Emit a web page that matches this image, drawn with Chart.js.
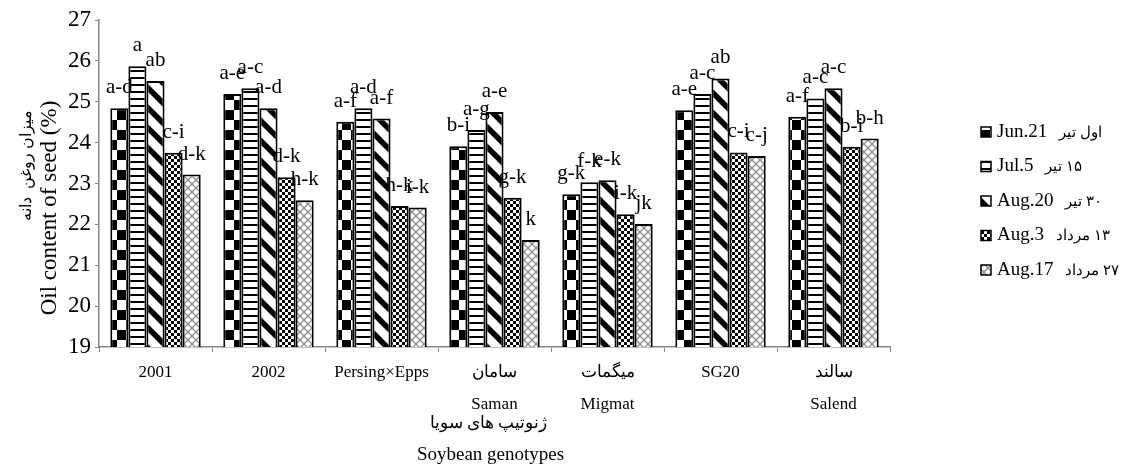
<!DOCTYPE html>
<html>
<head>
<meta charset="utf-8">
<script src="https://cdn.jsdelivr.net/npm/chart.js@4.4.1/dist/chart.umd.min.js"></script>
<style>
  html, body { margin: 0; background: #fff; }
  #wrap { width: 1123px; height: 465px; position: relative; }
</style>
</head>
<body>
<div id="wrap"><canvas id="oilChart"></canvas></div>
<script>
// genotypes (persian name on top, english below)
const genotypes = ['2001', '2002', 'Persing×Epps', ['سامان', 'Saman'], ['میگمات', 'Migmat'], 'SG20', ['سالند', 'Salend']];

// sowing dates
const datesEn = ['Jun.21', 'Jul.5', 'Aug.20', 'Aug.3', 'Aug.17'];
const datesFa = ['اول تیر', '۱۵ تیر', '۳۰ تیر', '۱۳ مرداد', '۲۷ مرداد'];

// oil content (%)
const jun21 = [24.84, 25.19, 24.51, 23.91, 22.74, 24.79, 24.63];
const jul5  = [25.87, 25.33, 24.84, 24.31, 23.03, 25.19, 25.08];
const aug20 = [25.51, 24.84, 24.59, 24.75, 23.08, 25.57, 25.33];
const aug3  = [23.75, 23.15, 22.45, 22.65, 22.25, 23.76, 23.90];
const aug17 = [23.22, 22.59, 22.41, 21.62, 22.01, 23.67, 24.10];

// mean comparison letters
const letJun21 = ['a-d', 'a-e', 'a-f', 'b-i', 'g-k', 'a-e', 'a-f'];
const letJul5  = ['a', 'a-c', 'a-d', 'a-g', 'f-k', 'a-c', 'a-c'];
const letAug20 = ['ab', 'a-d', 'a-f', 'a-e', 'e-k', 'ab', 'a-c'];
const letAug3  = ['c-i', 'd-k', 'h-k', 'g-k', 'i-k', 'c-i', 'b-i'];
const letAug17 = ['d-k', 'h-k', 'i-k', 'k', 'jk', 'c-j', 'b-h'];

const yTicks = [19, 20, 21, 22, 23, 24, 25, 26, 27];

const serif = "'Liberation Serif', 'Times New Roman', serif";
const axisGrey = '#868686';

// excel-like fill patterns
function makePattern(w, h, draw) {
  const c = document.createElement('canvas');
  c.width = w; c.height = h;
  const g = c.getContext('2d');
  g.fillStyle = '#fff';
  g.fillRect(0, 0, w, h);
  draw(g, w, h);
  return g.createPattern(c, 'repeat');
}

const patterns = [
  // large checker
  makePattern(18, 20, g => {
    g.fillStyle = '#000';
    g.fillRect(0, 0, 9, 10);
    g.fillRect(9, 10, 9, 10);
  }),
  // horizontal stripes
  makePattern(6, 7, g => {
    g.fillStyle = '#000';
    g.fillRect(0, 0, 6, 2);
  }),
  // wide downward diagonal
  makePattern(20, 20, g => {
    g.strokeStyle = '#000';
    g.lineWidth = 5.5;
    for (let k = -20; k <= 20; k += 20) {
      g.beginPath();
      g.moveTo(-5, -5 + k);
      g.lineTo(25, 25 + k);
      g.stroke();
    }
  }),
  // small checker
  makePattern(6, 6, g => {
    g.fillStyle = '#000';
    g.fillRect(0, 0, 3, 3);
    g.fillRect(3, 3, 3, 3);
  }),
  // grey trellis
  makePattern(8, 8, g => {
    g.strokeStyle = '#8c8c8c';
    g.lineWidth = 1.3;
    g.beginPath();
    g.moveTo(0, 0); g.lineTo(8, 8);
    g.moveTo(8, 0); g.lineTo(0, 8);
    g.stroke();
  })
];

const seriesValues = [jun21, jul5, aug20, aug3, aug17];
const seriesLetters = [letJun21, letJul5, letAug20, letAug3, letAug17];

const datasets = seriesValues.map((vals, i) => ({
  label: datesEn[i] + ' ' + datesFa[i],
  data: vals,
  backgroundColor: patterns[i],
  borderColor: '#000',
  borderWidth: 2,
  borderSkipped: 'bottom',
  categoryPercentage: 0.8,
  barPercentage: 1.0
}));

// letters above the bars
const letterPlugin = {
  id: 'letters',
  afterDatasetsDraw(chart) {
    const ctx = chart.ctx;
    ctx.save();
    ctx.font = '21px ' + serif;
    ctx.fillStyle = '#000';
    ctx.textAlign = 'center';
    ctx.textBaseline = 'alphabetic';
    chart.data.datasets.forEach((ds, i) => {
      chart.getDatasetMeta(i).data.forEach((bar, j) => {
        ctx.fillText(seriesLetters[i][j], bar.x, bar.y - 15);
      });
    });
    ctx.restore();
  }
};

// axis titles and legend
const extrasPlugin = {
  id: 'extras',
  afterDraw(chart) {
    const ctx = chart.ctx;
    const area = chart.chartArea;
    const midX = (area.left + area.right) / 2;
    ctx.save();
    ctx.fillStyle = '#000';
    ctx.textBaseline = 'middle';

    // y title
    ctx.save();
    ctx.translate(27, 165);
    ctx.rotate(-Math.PI / 2);
    ctx.textAlign = 'center';
    ctx.direction = 'rtl';
    ctx.font = '16px ' + serif;
    ctx.fillText('میزان روغن  دانه', 0, 0);
    ctx.restore();

    ctx.save();
    ctx.translate(50, 208);
    ctx.rotate(-Math.PI / 2);
    ctx.textAlign = 'center';
    ctx.font = '23px ' + serif;
    ctx.fillText('Oil content of seed (%)', 0, 0);
    ctx.restore();

    // x title
    ctx.textAlign = 'center';
    ctx.direction = 'rtl';
    ctx.font = '17px ' + serif;
    ctx.fillText('ژنوتیپ های سویا', midX - 6, 424);
    ctx.direction = 'ltr';
    ctx.font = '19px ' + serif;
    ctx.fillText('Soybean genotypes', midX - 4, 455);

    // legend
    ctx.textAlign = 'left';
    datesEn.forEach((d, i) => {
      const y = 132 + i * 34.5;
      ctx.fillStyle = patterns[i];
      ctx.fillRect(981, y - 5, 10, 10);
      ctx.strokeStyle = '#000';
      ctx.lineWidth = 1.5;
      ctx.strokeRect(981, y - 5, 10, 10);
      ctx.fillStyle = '#000';
      ctx.direction = 'ltr';
      ctx.font = '19px ' + serif;
      ctx.fillText(d, 997, y);
      const w = ctx.measureText(d).width;
      ctx.direction = 'rtl';
      ctx.font = '15px ' + serif;
      ctx.fillText(datesFa[i], 997 + w + 12, y + 1);
    });
    ctx.restore();
  }
};

new Chart(document.getElementById('oilChart'), {
  type: 'bar',
  data: { labels: genotypes, datasets },
  plugins: [letterPlugin, extrasPlugin],
  options: {
    responsive: true,
    maintainAspectRatio: false,
    animation: false,
    devicePixelRatio: 1,
    layout: { padding: { top: 20, right: 233, left: 0, bottom: 0 } },
    plugins: { legend: { display: false }, tooltip: { enabled: false } },
    scales: {
      x: {
        grid: { display: true, drawOnChartArea: false, offset: true, tickLength: 5, color: axisGrey },
        border: { color: axisGrey, width: 1.5 },
        ticks: {
          color: '#000',
          padding: 4,
          maxRotation: 0,
          font: { family: serif, size: 17, lineHeight: 1.9 }
        },
        afterFit: s => { s.height = 118; }
      },
      y: {
        min: 19,
        max: 27,
        afterBuildTicks: s => { s.ticks = yTicks.map(v => ({ value: v })); },
        grid: { display: true, drawOnChartArea: false, tickLength: 4, color: axisGrey },
        border: { color: axisGrey, width: 1.5 },
        ticks: { color: '#000', padding: 4, font: { family: serif, size: 23 } },
        afterFit: s => { s.width = 99; }
      }
    }
  }
});
</script>
</body>
</html>
